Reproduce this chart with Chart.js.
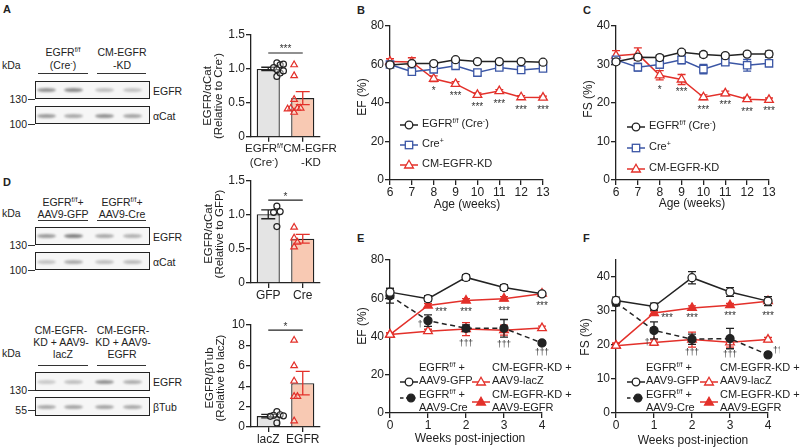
<!DOCTYPE html>
<html>
<head>
<meta charset="utf-8">
<script src="https://cdn.jsdelivr.net/npm/chart.js@4.4.1/dist/chart.umd.min.js"></script>
<style>
  body { margin: 0; background: #fff; }
  #fig { position: relative; width: 800px; height: 448px; overflow: hidden; font-family: "Liberation Sans", Arial, sans-serif; color: #222; }
  #fig canvas { position: absolute; }
  .t { position: absolute; white-space: nowrap; font-size: 11px; line-height: 14px; }
  .v { position: absolute; white-space: nowrap; font-size: 11.5px; line-height: 11px; text-align: center; transform: translate(-50%, -50%) rotate(-90deg); }
  .L { position: absolute; font-weight: bold; font-size: 11px; line-height: 12px; }
  .box { position: absolute; border: 1.3px solid #222; background: #f6f6f6; box-sizing: border-box; overflow: hidden; }
  .band { position: absolute; border-radius: 50%; filter: blur(0.8px); }
  .rule { position: absolute; height: 1.3px; background: #333; }
  .mk { position: absolute; }
  sup { font-size: 7px; line-height: 0; vertical-align: 4px; }
</style>
</head>
<body>
<div id="fig"></div>
<script>
// Panels B / C: echo by age
const ages = ['6', '7', '8', '9', '10', '11', '12', '13'];
const efCtrl    = [59.8, 60.5, 60.5, 62.5, 61.5, 61.5, 61.5, 61.2];
const efCtrlErr = [0.8, 1.0, 0.8, 0.8, 0.8, 0.8, 0.8, 0.8];
const efCre     = [60.0, 56.3, 57.5, 59.3, 55.8, 58.5, 57.2, 58.0];
const efCreErr  = [1.0, 1.2, 1.2, 1.2, 1.5, 1.0, 1.5, 1.2];
const efKd      = [61.5, 61.3, 52.6, 49.9, 44.2, 46.2, 43.0, 42.8];
const efKdErr   = [1.5, 2.2, 1.5, 1.2, 1.0, 0.8, 0.8, 0.8];
const efKdSig   = ['', '', '*', '***', '***', '***', '***', '***'];

const fsCtrl    = [30.7, 31.9, 31.8, 33.2, 32.6, 32.3, 32.7, 32.7];
const fsCtrlErr = [0.6, 0.6, 0.6, 0.5, 0.6, 0.5, 0.5, 0.8];
const fsCre     = [31.2, 29.3, 30.0, 31.2, 28.8, 30.6, 29.8, 30.3];
const fsCreErr  = [0.8, 1.0, 1.0, 1.0, 1.2, 0.8, 1.5, 0.8];
const fsKd      = [32.3, 32.7, 27.2, 26.1, 21.5, 22.5, 21.0, 20.8];
const fsKdErr   = [1.3, 1.6, 1.2, 1.3, 0.6, 0.6, 0.5, 0.5];
const fsKdSig   = ['', '', '*', '***', '***', '***', '***', '***'];

// Panels E / F: weeks after AAV9 injection
const weeks = ['0', '1', '2', '3', '4'];
const efGfp       = [63.2, 59.8, 70.9, 65.6, 62.3];
const efGfpErr    = [2.0, 1.5, 1.5, 1.5, 1.2];
const efAavCre    = [61.3, 48.3, 44.3, 44.3, 36.6];
const efAavCreErr = [3.8, 3.0, 1.8, 4.6, 1.0];
const efLacz      = [41.0, 42.8, 43.9, 43.3, 44.4];
const efLaczErr   = [1.0, 1.0, 3.4, 2.6, 1.0];
const efRescue    = [41.0, 56.2, 58.8, 59.8, 62.4];
const efRescueErr = [0.8, 1.0, 1.0, 1.0, 1.0];
const efRescueSig = ['', '***', '***', '***', '***'];
const efCreSig    = ['', '†', '†††', '†††', '†††'];

const fsGfp       = [33.1, 31.3, 39.8, 35.6, 32.9];
const fsGfpErr    = [1.0, 1.0, 1.8, 1.3, 1.3];
const fsAavCre    = [32.5, 24.3, 21.7, 21.9, 17.1];
const fsAavCreErr = [1.0, 2.5, 1.5, 3.0, 0.5];
const fsLacz      = [19.8, 20.7, 21.6, 20.8, 21.6];
const fsLaczErr   = [0.8, 0.8, 2.2, 1.4, 0.6];
const fsRescue    = [19.8, 29.4, 30.9, 31.7, 32.9];
const fsRescueErr = [0.6, 0.6, 0.6, 0.5, 0.6];
const fsRescueSig = ['', '***', '***', '***', '***'];
const fsCreSig    = ['', '†', '†††', '†††', '†††'];

// Bar panels (A, D): group means, SEM and single animals
const aGroups  = ['EGFR f/f (Cre-)', 'CM-EGFR-KD'];
const aMeans   = [1.0, 0.57];
const aErr     = [0.025, 0.095];
const aCtrlPts = [1.09, 0.89, 1.06, 1.02, 1.07, 0.94, 0.97, 0.99];
const aKdPts   = [1.06, 0.90, 0.55, 0.36, 0.42, 0.42, 0.42, 0.41];

const dGroups  = ['GFP', 'Cre'];
const dMeans   = [1.01, 0.65];
const dErr     = [0.065, 0.065];
const dGfpPts  = [1.13, 1.05, 1.04, 0.83];
const dCrePts  = [0.82, 0.66, 0.60, 0.53];

const rGroups  = ['lacZ', 'EGFR'];
const rMeans   = [1.07, 4.3];
const rErr     = [0.17, 1.15];
const rLaczPts = [1.5, 1.2, 1.15, 1.1, 1.05, 0.4];
const rEgfrPts = [8.5, 6.0, 4.5, 3.0, 3.0, 0.6];

const fig = document.getElementById('fig');
const FONT = '"Liberation Sans", Arial, sans-serif';
const INK = '#222', BLUE = '#3b56a5', RED = '#e3302a';
const GREY = '#e4e4e4', SALMON = '#f8c9b3';

Chart.defaults.font.family = FONT;
Chart.defaults.color = INK;
Chart.defaults.animation = false;
Chart.defaults.plugins.legend.display = false;
Chart.defaults.plugins.tooltip.enabled = false;

// error bars: under the line for line series, over the bar for bars
function drawErr(chart, i) {
  const ds = chart.data.datasets[i];
  if (!ds.err) return;
  const meta = chart.getDatasetMeta(i);
  const ys = chart.scales[meta.yAxisID];
  const ctx = chart.ctx;
  ctx.save();
  ctx.lineWidth = 1.3;
  meta.data.forEach((el, k) => {
    const v = ds.data[k], e = ds.err[k];
    if (v == null || !e) return;
    const top = ys.getPixelForValue(v + e), bot = ys.getPixelForValue(v - e);
    const cw = ds.capW || 4;
    ctx.strokeStyle = Array.isArray(ds.errColor) ? ds.errColor[k] : (ds.errColor || ds.borderColor);
    ctx.beginPath();
    ctx.moveTo(el.x, top); ctx.lineTo(el.x, bot);
    ctx.moveTo(el.x - cw, top); ctx.lineTo(el.x + cw, top);
    ctx.moveTo(el.x - cw, bot); ctx.lineTo(el.x + cw, bot);
    ctx.stroke();
  });
  ctx.restore();
}
const errorBars = {
  id: 'errorBars',
  beforeDatasetDraw(chart, args) { if (args.meta.type === 'line') drawErr(chart, args.index); },
  afterDatasetDraw(chart, args) { if (args.meta.type === 'bar') drawErr(chart, args.index); }
};

// stars / daggers next to points
const markPlugin = {
  id: 'marks',
  afterDatasetsDraw(chart, args, opts) {
    const ctx = chart.ctx;
    (opts.items || []).forEach(it => {
      const meta = chart.getDatasetMeta(it.ds);
      it.text.forEach((t, k) => {
        if (!t) return;
        const el = meta.data[k];
        const dx = Array.isArray(it.dx) ? it.dx[k] : (it.dx || 0);
        const dy = Array.isArray(it.dy) ? it.dy[k] : (it.dy || 0);
        const star = t.includes('*');
        ctx.save();
        ctx.fillStyle = '#333';
        ctx.font = (star ? '10px ' : '8.5px ') + FONT;
        ctx.textAlign = 'center';
        ctx.textBaseline = 'alphabetic';
        ctx.fillText(t, el.x + dx, el.y + dy + (star ? 5.5 : 3));
        ctx.restore();
      });
    });
  }
};

// significance bracket between the two bars
const sigBar = {
  id: 'sigBar',
  afterDraw(chart, args, o) {
    if (!o.text) return;
    const ctx = chart.ctx, x = chart.scales.x, y = chart.scales.y;
    const x0 = x.getPixelForValue(0), x1 = x.getPixelForValue(1), yy = y.getPixelForValue(o.v);
    ctx.save();
    ctx.strokeStyle = INK; ctx.lineWidth = 1.2;
    ctx.beginPath(); ctx.moveTo(x0, yy); ctx.lineTo(x1, yy); ctx.stroke();
    ctx.fillStyle = '#333'; ctx.font = '10px ' + FONT;
    ctx.textAlign = 'center'; ctx.textBaseline = 'alphabetic';
    ctx.fillText(o.text, (x0 + x1) / 2, yy - 0.5);
    ctx.restore();
  }
};

function canvasAt(a, m) {
  const w = a.x1 - a.x0 + m.l + m.r, h = a.y1 - a.y0 + m.t + m.b;
  const c = document.createElement('canvas');
  c.width = w; c.height = h;
  c.style.cssText = `left:${a.x0 - m.l}px;top:${a.y0 - m.t}px;width:${w}px;height:${h}px`;
  fig.appendChild(c);
  return c;
}

function yLin(min, max, step, width, fmt) {
  return {
    min, max,
    afterFit: s => { s.width = width; },
    afterBuildTicks: s => { s.ticks = s.ticks.filter(t => Math.abs(t.value / step - Math.round(t.value / step)) < 1e-6); },
    ticks: { stepSize: step, padding: 1, color: INK, font: { size: 12 }, callback: fmt },
    grid: { drawOnChartArea: false, color: INK, lineWidth: 1.3, tickLength: 5 },
    border: { color: INK, width: 1.3 }
  };
}
function xCat(height, offset, showLabels) {
  return {
    type: 'category', offset,
    afterFit: s => { s.height = height; },
    ticks: { display: showLabels, padding: 0, color: INK, font: { size: 12 }, maxRotation: 0, autoSkip: false },
    grid: { drawOnChartArea: false, color: INK, lineWidth: 1.3, tickLength: 5, offset: false },
    border: { color: INK, width: 1.3 }
  };
}

function series(data, err, color, style, extra) {
  return Object.assign({
    type: 'line', data, err, borderColor: color, borderWidth: 1.5, tension: 0, fill: false, clip: false,
    pointStyle: style, pointRadius: 4, pointBorderWidth: 1.3, pointBorderColor: color, pointBackgroundColor: '#fff'
  }, extra || {});
}

function lineChart(area, labels, datasets, yr, items) {
  const m = { l: 32, r: 12, t: 10, b: 22 };
  return new Chart(canvasAt(area, m), {
    type: 'line',
    data: { labels, datasets },
    options: {
      responsive: false,
      layout: { padding: { top: m.t, right: m.r, left: 0, bottom: 0 } },
      scales: { x: xCat(m.b, false, true), y: yLin(yr[0], yr[1], yr[2], m.l, v => v) },
      plugins: { marks: { items } }
    },
    plugins: [errorBars, markPlugin]
  });
}

// simple beeswarm so the single animals do not overlap
function swarm(vals, idx, thr) {
  const placed = [];
  return vals.map(v => {
    let off = 0;
    for (let k = 0; k < 9; k++) {
      off = (k % 2 ? 1 : -1) * Math.ceil(k / 2) * 0.19;
      if (!placed.some(p => Math.abs(p.y - v) < thr && Math.abs(p.x - off) < 0.18)) break;
    }
    placed.push({ x: off, y: v });
    return { x: idx + off, y: v };
  });
}

function barChart(area, labels, means, err, pts0, pts1, yr, fmt, sig, showLabels) {
  const m = { l: 30, r: 10, t: 10, b: showLabels ? 22 : 8 };
  const thr = (yr[1] - yr[0]) * 0.065;
  return new Chart(canvasAt(area, m), {
    type: 'bar',
    data: {
      labels,
      datasets: [
        { type: 'bar', data: means, err, errColor: [INK, RED], capW: 7, order: 2, grouped: false,
          backgroundColor: [GREY, SALMON], borderColor: INK, borderWidth: 1.3,
          barPercentage: 0.67, categoryPercentage: 1 },
        { type: 'scatter', data: swarm(pts0, 0, thr), xAxisID: 'xj', order: 1,
          pointStyle: 'circle', pointRadius: 3, pointBorderWidth: 1.2,
          borderColor: INK, backgroundColor: 'rgba(255,255,255,0.4)' },
        { type: 'scatter', data: swarm(pts1, 1, thr), xAxisID: 'xj', order: 1,
          pointStyle: 'triangle', pointRadius: 3.8, pointBorderWidth: 1.2,
          borderColor: RED, backgroundColor: 'rgba(255,255,255,0.3)' }
      ]
    },
    options: {
      responsive: false,
      layout: { padding: { top: m.t, right: m.r, left: 0, bottom: 0 } },
      scales: {
        x: xCat(m.b, true, showLabels),
        xj: { type: 'linear', display: false, min: -0.5, max: 1.5 },
        y: yLin(yr[0], yr[1], yr[2], m.l, fmt)
      },
      plugins: { sigBar: sig }
    },
    plugins: [errorBars, sigBar]
  });
}

const fmt1 = v => (v === 0 ? '0' : v.toFixed(1));

// ---- bar charts
barChart({ x0: 251, x1: 320, y0: 35, y1: 137 }, aGroups, aMeans, aErr, aCtrlPts, aKdPts,
  [0, 1.5, 0.5], fmt1, { v: 1.235, text: '***' }, false);
barChart({ x0: 251, x1: 320, y0: 181, y1: 283 }, dGroups, dMeans, dErr, dGfpPts, dCrePts,
  [0, 1.5, 0.5], fmt1, { v: 1.22, text: '*' }, true);
barChart({ x0: 251, x1: 320, y0: 325, y1: 427 }, rGroups, rMeans, rErr, rLaczPts, rEgfrPts,
  [0, 10, 2], v => v, { v: 9.5, text: '*' }, true);

// ---- B: EF by age
lineChart({ x0: 390, x1: 543, y0: 26, y1: 180 }, ages, [
  series(efCtrl, efCtrlErr, INK, 'circle'),
  series(efCre, efCreErr, BLUE, 'rect', { pointRadius: 5.2 }),
  series(efKd, efKdErr, RED, 'triangle', { pointRadius: 5 })
], [0, 80, 20], [{ ds: 2, text: efKdSig, dy: 10 }]);

// ---- C: FS by age
lineChart({ x0: 616, x1: 769, y0: 26, y1: 180 }, ages, [
  series(fsCtrl, fsCtrlErr, INK, 'circle'),
  series(fsCre, fsCreErr, BLUE, 'rect', { pointRadius: 5.2 }),
  series(fsKd, fsKdErr, RED, 'triangle', { pointRadius: 5 })
], [0, 40, 10], [{ ds: 2, text: fsKdSig, dy: [0, 0, 12, 10, 10, 9, 10, 9] }]);

// ---- E: EF after injection
lineChart({ x0: 390, x1: 542, y0: 260, y1: 413 }, weeks, [
  series(efGfp, efGfpErr, INK, 'circle'),
  series(efAavCre, efAavCreErr, INK, 'circle', { borderDash: [5, 3.5], pointBackgroundColor: INK, pointRadius: 4 }),
  series(efLacz, efLaczErr, RED, 'triangle', { pointRadius: 5 }),
  series(efRescue, efRescueErr, RED, 'triangle', { pointRadius: 5, pointBackgroundColor: RED })
], [0, 80, 20], [
  { ds: 3, text: efRescueSig, dx: [0, 13, 0, 0, 0], dy: [0, 4, 9, 10, 10] },
  { ds: 1, text: efCreSig, dx: [0, -8, 0, 0, 0], dy: [0, 3, 15, 16, 9] }
]);

// ---- F: FS after injection
lineChart({ x0: 616, x1: 768, y0: 260, y1: 413 }, weeks, [
  series(fsGfp, fsGfpErr, INK, 'circle'),
  series(fsAavCre, fsAavCreErr, INK, 'circle', { borderDash: [5, 3.5], pointBackgroundColor: INK, pointRadius: 4 }),
  series(fsLacz, fsLaczErr, RED, 'triangle', { pointRadius: 5 }),
  series(fsRescue, fsRescueErr, RED, 'triangle', { pointRadius: 5, pointBackgroundColor: RED })
], [0, 45, 10], [
  { ds: 3, text: fsRescueSig, dx: [0, 13, 0, 0, 0], dy: [0, 2, 8, 8, 12] },
  { ds: 1, text: fsCreSig, dx: [0, -7, 0, 0, 12], dy: [0, 12, 13, 15, -5] }
]);

// ---- text helpers
function T(html, x, y, align, size) {
  const d = document.createElement('div');
  d.className = 't';
  d.innerHTML = html;
  d.style.top = (y - 7) + 'px';
  if (size) d.style.fontSize = size + 'px';
  if (align === 'c') { d.style.left = x + 'px'; d.style.transform = 'translateX(-50%)'; d.style.textAlign = 'center'; }
  else if (align === 'r') { d.style.right = (800 - x) + 'px'; d.style.textAlign = 'right'; }
  else d.style.left = x + 'px';
  fig.appendChild(d);
}
const TB = (html, x, y, align) => T(html, x, y, align, 10.5);
function V(html, x, y, size) {
  const d = document.createElement('div');
  d.className = 'v';
  d.innerHTML = html;
  d.style.left = x + 'px'; d.style.top = y + 'px';
  if (size) d.style.fontSize = size + 'px';
  fig.appendChild(d);
}
function letter(s, x, y) {
  const d = document.createElement('div');
  d.className = 'L'; d.textContent = s;
  d.style.left = x + 'px'; d.style.top = (y - 6) + 'px';
  fig.appendChild(d);
}
function rule(x0, x1, y) {
  const d = document.createElement('div');
  d.className = 'rule';
  d.style.cssText = `left:${x0}px;top:${y}px;width:${x1 - x0}px`;
  fig.appendChild(d);
}
function blot(y, h, shade, bandY) {
  const lanes = [46, 73, 104, 132];
  const b = document.createElement('div');
  b.className = 'box';
  b.style.cssText = `left:35px;top:${y}px;width:115px;height:${h}px`;
  lanes.forEach((cx, i) => {
    const d = document.createElement('div');
    d.className = 'band';
    d.style.cssText = `left:${cx - 10 - 35}px;top:${bandY - y - 3}px;width:19px;height:4px;background:rgba(70,70,70,${shade[i]})`;
    b.appendChild(d);
  });
  fig.appendChild(b);
}
function mk(x, y, shape, color, filled, dashed) {
  const w = 18, c = dashed ? 11 : 9, f = filled ? color : '#fff';
  let s = `<line x1="0" y1="6" x2="${w}" y2="6" stroke="${color}" stroke-width="1.5"${dashed ? ' stroke-dasharray="3.5 2.5"' : ''}/>`;
  if (shape === 'circle') s += `<circle cx="${c}" cy="6" r="3.8" fill="${f}" stroke="${color}" stroke-width="1.3"/>`;
  if (shape === 'rect') s += `<rect x="${c - 3.7}" y="2.3" width="7.4" height="7.4" fill="${f}" stroke="${color}" stroke-width="1.3"/>`;
  if (shape === 'tri') s += `<polygon points="${c},1.3 ${c + 4.4},9 ${c - 4.4},9" fill="${f}" stroke="${color}" stroke-width="1.3"/>`;
  const d = document.createElement('div');
  d.className = 'mk';
  d.style.cssText = `left:${x}px;top:${y - 6}px`;
  d.innerHTML = `<svg width="${w}" height="12">${s}</svg>`;
  fig.appendChild(d);
}

// ---- panel letters
letter('A', 3, 9); letter('B', 357, 10); letter('C', 583, 10);
letter('D', 3, 182); letter('E', 357, 238); letter('F', 583, 238);

// ---- A blot
TB('kDa', 2, 65);
TB('EGFR<sup>f/f</sup>', 63, 52, 'c'); TB('(Cre<sup>-</sup>)', 63, 65, 'c');
TB('CM-EGFR', 122, 52, 'c'); TB('-KD', 122, 65, 'c');
rule(38, 88, 73); rule(97, 146, 73);
blot(81, 18, [0.55, 0.6, 0.3, 0.28], 90);
blot(106, 18, [0.5, 0.42, 0.55, 0.45], 116);
TB('EGFR', 153, 91); TB('αCat', 153, 116);
TB('130', 27, 99, 'r'); rule(28, 35, 98.5);
TB('100', 27, 124, 'r'); rule(28, 35, 123.5);

// ---- D blots
TB('kDa', 2, 213);
TB('EGFR<sup>f/f</sup>+', 63, 202, 'c'); TB('AAV9-GFP', 63, 214, 'c');
TB('EGFR<sup>f/f</sup>+', 122, 202, 'c'); TB('AAV9-Cre', 122, 214, 'c');
rule(38, 88, 220); rule(97, 146, 220);
blot(227, 18, [0.5, 0.65, 0.42, 0.38], 236);
blot(252, 18, [0.28, 0.42, 0.3, 0.32], 262);
TB('EGFR', 153, 237); TB('αCat', 153, 262);
TB('130', 27, 245, 'r'); rule(28, 35, 244.5);
TB('100', 27, 270, 'r'); rule(28, 35, 269.5);

TB('kDa', 2, 353);
TB('CM-EGFR-', 61, 330, 'c'); TB('KD + AAV9-', 61, 342, 'c'); TB('lacZ', 63, 354, 'c');
TB('CM-EGFR-', 123, 330, 'c'); TB('KD + AAV9-', 123, 342, 'c'); TB('EGFR', 122, 354, 'c');
rule(38, 88, 365); rule(97, 146, 365);
blot(372, 19, [0.25, 0.3, 0.55, 0.4], 382);
blot(397, 19, [0.42, 0.45, 0.45, 0.42], 407);
TB('EGFR', 153, 382); TB('βTub', 153, 407);
TB('130', 27, 390, 'r'); rule(28, 35, 389.5);
TB('55', 27, 410, 'r'); rule(28, 35, 409.5);

// ---- bar chart titles / labels
V('EGFR/αCat<br>(Relative to Cre<sup>-</sup>)', 213, 96);
V('EGFR/αCat<br>(Relative to GFP)', 214, 234);
V('EGFR/βTub<br>(Relative to lacZ)', 215, 378);
T('EGFR<sup>f/f</sup>', 264, 148, 'c', 11.5); T('(Cre<sup>-</sup>)', 264, 162, 'c', 11.5);
T('CM-EGFR', 310, 148, 'c', 11.5); T('-KD', 311, 162, 'c', 11.5);

// ---- line chart titles
V('EF (%)', 362, 97, 12); V('FS (%)', 588, 99, 12);
V('EF (%)', 362, 326, 12); V('FS (%)', 585, 337, 12);
T('Age (weeks)', 467, 204, 'c', 12); T('Age (weeks)', 692, 203, 'c', 12);
T('Weeks post-injection', 470, 438, 'c', 12); T('Weeks post-injection', 693, 440, 'c', 12);

// ---- legends B / C
[[400, [123, 143, 163]], [627, [125, 146, 167]]].forEach(([x, ys]) => {
  mk(x, ys[0], 'circle', INK, false); T('EGFR<sup>f/f</sup> (Cre<sup>-</sup>)', x + 22, ys[0]);
  mk(x, ys[1], 'rect', BLUE, false); T('Cre<sup>+</sup>', x + 22, ys[1]);
  mk(x, ys[2], 'tri', RED, false); T('CM-EGFR-KD', x + 22, ys[2]);
});

// ---- legends E / F
[[400, 472], [627, 700]].forEach(([c1, c2]) => {
  mk(c1, 380, 'circle', INK, false); T('EGFR<sup>f/f</sup> +', c1 + 19, 367); T('AAV9-GFP', c1 + 19, 380);
  mk(c1, 396, 'circle', INK, true, true); T('EGFR<sup>f/f</sup> +', c1 + 19, 394); T('AAV9-Cre', c1 + 19, 407);
  mk(c2, 380, 'tri', RED, false); T('CM-EGFR-KD +', c2 + 20, 367); T('AAV9-lacZ', c2 + 20, 380);
  mk(c2, 400, 'tri', RED, true); T('CM-EGFR-KD +', c2 + 20, 394); T('AAV9-EGFR', c2 + 20, 407);
});
</script>
</body>
</html>
